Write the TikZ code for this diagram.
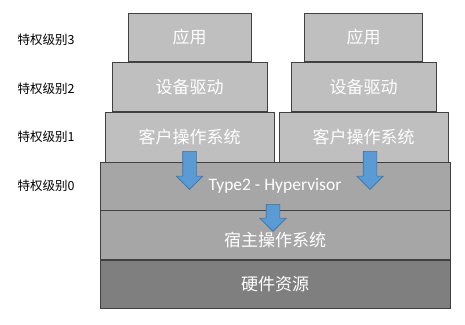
\documentclass[tikz,border=0pt]{standalone}
\usepackage{fontspec}
\setmainfont{Carlito}
\newfontfamily\cjk{Noto Sans CJK SC}
\definecolor{edge}{RGB}{64, 64, 64}
\definecolor{lightbox}{RGB}{191, 191, 191}
\definecolor{midbox}{RGB}{166, 166, 166}
\definecolor{darkbox}{RGB}{127, 127, 127}
\definecolor{flow}{RGB}{91, 155, 213}
\definecolor{flowedge}{RGB}{65, 113, 156}
\usetikzlibrary{positioning, shapes.arrows}

\begin{document}
\begin{tikzpicture}[x=1pt, y=-1pt,
        layer/.style={draw=edge, line width=0.75pt, fill=lightbox, text=white, inner sep=0pt, minimum height=49pt, font=\cjk\fontsize{17}{20}\selectfont},
        base/.style={layer, minimum width=350pt},
        ring/.style={anchor=west, font=\cjk\fontsize{12.5}{15}\selectfont},
        flowarrow/.style={single arrow, fill=flow, draw=flowedge, line width=0.6pt, rotate=-90, inner xsep=0pt, inner ysep=6.5pt, single arrow head extend=6.5pt, minimum height=#1}
    ]
    \useasboundingbox (0,0) rectangle (465,324);
    \node[layer, minimum width=169pt, minimum height=50pt] (guestA) at (189.5,137) {客户操作系统};
    \node[layer, minimum width=155pt, above=0pt of guestA] (driverA) {设备驱动};
    \node[layer, minimum width=123pt, minimum height=48pt, above=0pt of driverA] (appA) {应用};
    \node[layer, minimum width=169pt, minimum height=50pt] (guestB) at (363.5,137) {客户操作系统};
    \node[layer, minimum width=145pt, above=0pt of guestB] (driverB) {设备驱动};
    \node[layer, minimum width=118pt, minimum height=48pt, above=0pt of driverB] (appB) {应用};
    \node[base, fill=midbox, minimum height=48pt, font=\fontsize{17.5}{20}\selectfont] (hyper) at (275,186) {Type2 - Hypervisor};
    \node[base, fill=midbox, below=0pt of hyper, text height=26pt, text depth=4pt] (host) {宿主操作系统};
    \node[base, fill=darkbox, minimum height=48pt, below=0pt of host] (hw) {硬件资源};
    \node[ring] (lv3) at (14,40) {特权级别3};
    \node[ring] (lv2) at (14,89) {特权级别2};
    \node[ring] (lv1) at (14,137) {特权级别1};
    \node[ring] (lv0) at (14,186) {特权级别0};
    \node[flowarrow=38pt] (trapA) at (189.5,167) {};
    \node[flowarrow=38pt] (trapB) at (370,167) {};
    \node[flowarrow=27pt] (trapH) at (273,214.5) {};
\end{tikzpicture}
\end{document}
